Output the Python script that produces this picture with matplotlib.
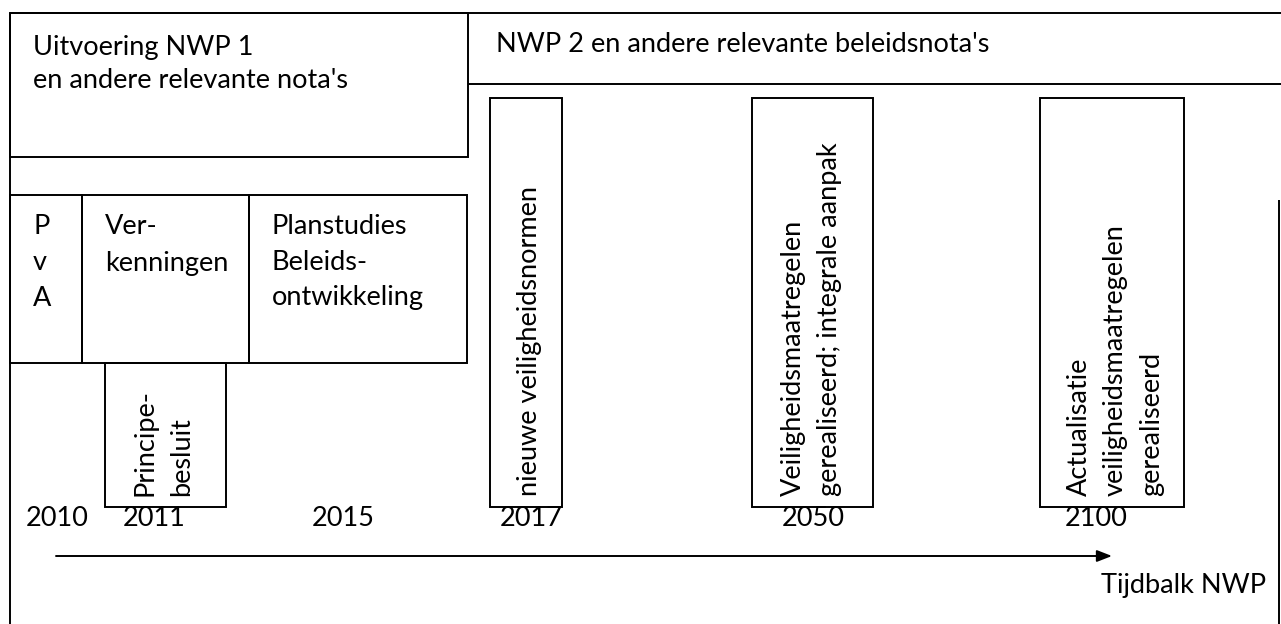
import matplotlib
matplotlib.use("Agg")
import matplotlib.pyplot as plt
from matplotlib.patches import Rectangle

# ---- content ----
header_left = ["Uitvoering NWP 1", "en andere relevante nota's"]
header_right = "NWP 2 en andere relevante beleidsnota's"
phase_labels = [["P", "v", "A"], ["Ver-", "kenningen"], ["Planstudies", "Beleids-", "ontwikkeling"]]
milestone_labels = [["Principe-", "besluit"],
                    ["nieuwe veiligheidsnormen"],
                    ["Veiligheidsmaatregelen", "gerealiseerd; integrale aanpak"],
                    ["Actualisatie", "veiligheidsmaatregelen", "gerealiseerd"]]
years = ["2010", "2011", "2015", "2017", "2050", "2100"]
axis_label = "Tijdbalk NWP"

# ---- layout (pixels) ----
W, H = 1281, 624
phase_x = [10, 82, 249, 467]          # boundaries of phase boxes
phase_y = (195, 363)
milestone_boxes = [(105, 226, 363, 507), (490, 562, 98, 507),
                   (752, 873, 98, 507), (1040, 1184, 98, 507)]
milestone_line_x = [[145, 182], [529], [793, 830], [1079, 1115, 1152]]
year_x = [57, 154, 343, 531, 813, 1096]

FONT = "Lato"
FS = 19.5

fig = plt.figure(figsize=(W / 100, H / 100), dpi=100)
ax = fig.add_axes([0, 0, 1, 1])
ax.set_xlim(0, W)
ax.set_ylim(H, 0)
ax.axis("off")

lw = 1.4
k = dict(color="black", lw=lw, solid_capstyle="butt")

# outer frame
ax.plot([10, W], [13, 13], **k)
ax.plot([10, 10], [13, H], **k)
ax.plot([1279, 1279], [200, H], **k)

# header boxes
ax.add_patch(Rectangle((10, 13), 458, 144, fill=False, ec="black", lw=lw))
ax.plot([468, W], [84, 84], **k)
ax.text(33, 47, header_left[0], fontsize=FS, family=FONT, va="center", ha="left")
ax.text(33, 81, header_left[1], fontsize=FS, family=FONT, va="center", ha="left")
ax.text(496, 45, header_right, fontsize=FS, family=FONT, va="center", ha="left")

# phase boxes
line_y = [227, 263, 298]
for i, lines in enumerate(phase_labels):
    x0, x1 = phase_x[i], phase_x[i + 1]
    ax.add_patch(Rectangle((x0, phase_y[0]), x1 - x0, phase_y[1] - phase_y[0],
                           fill=False, ec="black", lw=lw))
    for j, t in enumerate(lines):
        ax.text(x0 + 23, line_y[j], t, fontsize=FS, family=FONT, va="center", ha="left")

# milestone boxes with vertical text
for (x0, x1, y0, y1), lines, xs in zip(milestone_boxes, milestone_labels, milestone_line_x):
    ax.add_patch(Rectangle((x0, y0), x1 - x0, y1 - y0, fill=False, ec="black", lw=lw))
    for t, xc in zip(lines, xs):
        ax.text(xc, 496, t, fontsize=FS, family=FONT, rotation=90,
                va="bottom", ha="center", rotation_mode="default")

# years
for y, xc in zip(years, year_x):
    ax.text(xc, 518, y, fontsize=FS, family=FONT, va="center", ha="center")

# time arrow
ax.annotate("", xy=(1112, 556), xytext=(56, 556),
            arrowprops=dict(arrowstyle="-|>,head_length=0.9,head_width=0.35",
                            color="black", lw=1.4, shrinkA=0, shrinkB=0))
ax.text(1101, 585, axis_label, fontsize=FS, family=FONT, va="center", ha="left")

fig.savefig("out.png", dpi=100)
